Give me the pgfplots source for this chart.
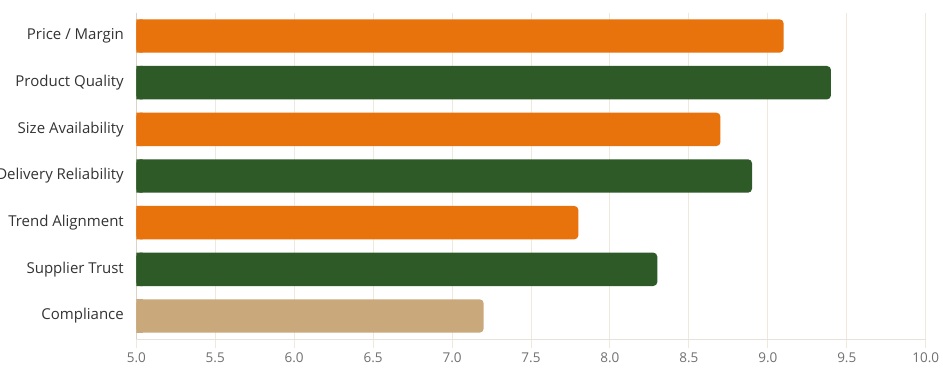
\documentclass[border=0pt]{standalone}
\usepackage{fontspec}
\setmainfont{Open Sans}
\usepackage{pgfplots}
\pgfplotsset{compat=1.18}
\definecolor{cOrange}{HTML}{E8720C}
\definecolor{cGreen}{HTML}{2E5A27}
\definecolor{cTan}{HTML}{C9A97C}
\definecolor{cGrid}{HTML}{F1E8DC}
\definecolor{cAxisL}{HTML}{DCD3C6}
\definecolor{cAxisB}{HTML}{E6E2DC}
\definecolor{cLabel}{HTML}{333333}
\definecolor{cTick}{HTML}{707070}
\begin{document}
\begin{tikzpicture}
\begin{axis}[
  scale only axis,
  width=789.4bp, height=326.6bp,
  xmin=5, xmax=10,
  ymin=-0.5, ymax=6.5,
  y dir=reverse,
  xbar, bar shift=0pt, bar width=33.4bp,
  xtick={5,5.5,...,10},
  xticklabel style={/pgf/number format/fixed, /pgf/number format/fixed zerofill, /pgf/number format/precision=1, font=\fontsize{13.5bp}{16bp}\selectfont, text=cTick, yshift=-1bp},
  /pgf/number format/assume math mode=true,
  ytick={0,1,2,3,4,5,6},
  yticklabels={Price / Margin,Product Quality,Size Availability,Delivery Reliability,Trend Alignment,Supplier Trust,Compliance},
  yticklabel style={font=\fontsize{15bp}{18bp}\selectfont, text=cLabel, xshift=0bp},
  axis x line*=bottom, axis y line*=left,
  x axis line style={cAxisB, line width=1bp, -},
  y axis line style={cAxisL, line width=1bp, -},
  xmajorgrids, grid style={cGrid, line width=1bp},
  major tick length=9bp,
  tick align=outside,
  x tick style={cGrid, line width=1bp},
  y tick style={draw=none},
  clip=true,
]
\addplot[fill=cOrange, draw=none, rounded corners=4bp] coordinates {(9.1,0) (8.7,2) (7.8,4)};
\addplot[fill=cGreen, draw=none, rounded corners=4bp] coordinates {(9.4,1) (8.9,3) (8.3,5)};
\addplot[fill=cTan, draw=none, rounded corners=4bp] coordinates {(7.2,6)};
% square left ends
\addplot[fill=cOrange, draw=none] coordinates {(5.04,0) (5.04,2) (5.04,4)};
\addplot[fill=cGreen, draw=none] coordinates {(5.04,1) (5.04,3) (5.04,5)};
\addplot[fill=cTan, draw=none] coordinates {(5.04,6)};
\coordinate (bl) at (rel axis cs:0,0);
\coordinate (tr) at (rel axis cs:1,1);
\end{axis}
\pgfresetboundingbox
\useasboundingbox ([shift={(-136.3bp,-35.7bp)}]bl) rectangle ([shift={(17.3bp,12.7bp)}]tr);
\end{tikzpicture}
\end{document}
